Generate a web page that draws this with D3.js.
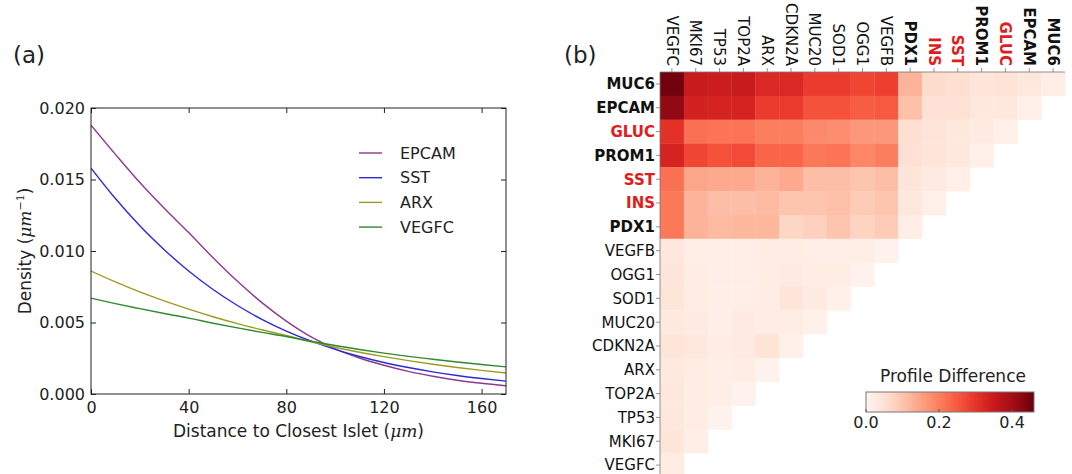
<!DOCTYPE html>
<html><head><meta charset="utf-8">
<script src="https://cdn.jsdelivr.net/npm/d3@7"></script>
<style>body{margin:0;background:#fff} text{font-family:"DejaVu Sans",sans-serif}</style>
</head><body><svg id="c" width="1072" height="474"></svg>
<script>
// ---------- Panel (a) data ----------
const distance = [0,10,20,30,40,50,60,70,80,90,100,110,120,130,140,150,160,170];
const epcam = [0.0188,0.01676,0.01479,0.01299,0.01129,0.00953,0.00788,0.00639,0.00510,0.00401,0.003156,0.00252,0.00201,0.00158,0.00124,0.00096,0.00075,0.00058];
const sst   = [0.0158,0.01367,0.01176,0.01009,0.00860,0.00731,0.00619,0.00522,0.00440,0.00371,0.00312,0.00262,0.00220,0.00185,0.00155,0.00129,0.00108,0.00090];
const arx   = [0.0086,0.00784,0.00714,0.00651,0.00593,0.00540,0.00492,0.00449,0.00409,0.00365,0.00327,0.00292,0.00261,0.00233,0.00208,0.00185,0.00165,0.00147];
const vegfc = [0.0067,0.00632,0.00597,0.00563,0.00531,0.00495,0.00462,0.00431,0.00402,0.00369,0.00339,0.00311,0.00286,0.00263,0.00243,0.00224,0.00206,0.00190];
const seriesNames = ["EPCAM","SST","ARX","VEGFC"];
const seriesColors = ["#8c3a8c","#2b2bd6","#9c9c22","#2e8a2e"];
const xTicks = [0,40,80,120,160];
const yTicks = [0,0.005,0.010,0.015,0.020];

// ---------- Panel (b) data ----------
const colGenes = ["VEGFC","MKI67","TP53","TOP2A","ARX","CDKN2A","MUC20","SOD1","OGG1","VEGFB","PDX1","INS","SST","PROM1","GLUC","EPCAM","MUC6"];
const rowGenes = ["MUC6","EPCAM","GLUC","PROM1","SST","INS","PDX1","VEGFB","OGG1","SOD1","MUC20","CDKN2A","ARX","TOP2A","TP53","MKI67","VEGFC"];
const profileDiff = [
  [0.45,0.35,0.345,0.35,0.32,0.32,0.29,0.29,0.275,0.285,0.125,0.06,0.055,0.04,0.045,0.035,0.02],
  [0.42,0.335,0.33,0.33,0.29,0.29,0.26,0.26,0.245,0.25,0.105,0.05,0.05,0.035,0.035,0.015],
  [0.305,0.22,0.215,0.215,0.2,0.2,0.185,0.18,0.165,0.165,0.055,0.04,0.035,0.03,0.015],
  [0.33,0.275,0.26,0.27,0.235,0.235,0.21,0.215,0.19,0.2,0.05,0.04,0.035,0.015],
  [0.22,0.145,0.14,0.14,0.125,0.14,0.11,0.11,0.1,0.11,0.04,0.03,0.015],
  [0.21,0.125,0.11,0.11,0.115,0.1,0.1,0.105,0.09,0.1,0.035,0.015],
  [0.21,0.125,0.115,0.12,0.12,0.07,0.08,0.1,0.075,0.09,0.02],
  [0.035,0.02,0.018,0.018,0.022,0.022,0.018,0.018,0.02,0.01],
  [0.04,0.022,0.018,0.018,0.022,0.028,0.022,0.022,0.01],
  [0.04,0.022,0.018,0.018,0.022,0.04,0.03,0.012],
  [0.032,0.028,0.015,0.03,0.025,0.025,0.012],
  [0.042,0.035,0.022,0.028,0.045,0.012],
  [0.032,0.022,0.018,0.025,0.01],
  [0.035,0.022,0.018,0.01],
  [0.035,0.025,0.01],
  [0.04,0.02],
  [0.022]
];
const boldGenes = ["MUC6","EPCAM","GLUC","PROM1","SST","INS","PDX1"];
const redGenes = ["GLUC","SST","INS"];
const colorbarTicks = [0.0,0.2,0.4];
const colorMax = 0.46;

const svg = d3.select("#c");
const red = "#e01c1c";

// ================= Panel (a) =================
const x = d3.scaleLinear().domain([0,170]).range([91,506]);
const y = d3.scaleLinear().domain([0,0.02]).range([394,108]);
const ga = svg.append("g");

const series = [epcam, sst, arx, vegfc];
const line = d3.line().x((d,i)=>x(distance[i])).y(d=>y(d)).curve(d3.curveMonotoneX);
ga.append("defs").append("clipPath").attr("id","clipA").append("rect")
  .attr("x",91).attr("y",108).attr("width",415).attr("height",286);
series.forEach((s,k)=>{
  ga.append("path").datum(s).attr("d",line).attr("fill","none")
    .attr("stroke",seriesColors[k]).attr("stroke-width",1.4).attr("clip-path","url(#clipA)");
});

// axes (classic matplotlib: ticks inside on all sides)
const axB = d3.axisBottom(x).tickValues(xTicks).tickSizeInner(-5).tickSizeOuter(0).tickPadding(8).tickFormat(d3.format("d"));
const axT = d3.axisTop(x).tickValues(xTicks).tickSizeInner(-5).tickSizeOuter(0).tickFormat("");
const axL = d3.axisLeft(y).tickValues(yTicks).tickSizeInner(-5).tickSizeOuter(0).tickPadding(6).tickFormat(d3.format(".3f"));
const axR = d3.axisRight(y).tickValues(yTicks).tickSizeInner(-5).tickSizeOuter(0).tickFormat("");
[[axB,"translate(0,394)"],[axT,"translate(0,108)"],[axL,"translate(91,0)"],[axR,"translate(506,0)"]].forEach(([a,t])=>{
  const g = ga.append("g").attr("transform",t).call(a);
  g.select(".domain").remove();
  g.selectAll("line").attr("stroke","#222");
  g.selectAll("text").attr("font-size",16).attr("fill","#222").attr("font-family","DejaVu Sans");
});
ga.append("rect").attr("x",91).attr("y",108).attr("width",415).attr("height",286)
  .attr("fill","none").attr("stroke","#222").attr("stroke-width",1);

// legend
seriesNames.forEach((n,k)=>{
  const ly = 153 + k*24.7;
  ga.append("line").attr("x1",359).attr("x2",382).attr("y1",ly).attr("y2",ly)
    .attr("stroke",seriesColors[k]).attr("stroke-width",1.4);
  ga.append("text").attr("x",400).attr("y",ly).attr("dy","0.36em").attr("font-size",16).attr("fill","#222").text(n);
});

// axis labels
const xl = ga.append("text").attr("x",298.5).attr("y",437).attr("text-anchor","middle").attr("font-size",17).attr("fill","#222");
xl.append("tspan").text("Distance to Closest Islet (");
xl.append("tspan").attr("font-family","DejaVu Serif").attr("font-style","italic").text("μm");
xl.append("tspan").text(")");
const yl = ga.append("text").attr("transform","translate(31,251) rotate(-90)").attr("text-anchor","middle").attr("font-size",17).attr("fill","#222");
yl.append("tspan").text("Density (");
yl.append("tspan").attr("font-family","DejaVu Serif").attr("font-style","italic").text("μm");
yl.append("tspan").attr("font-size",11).attr("dy",-7).attr("font-family","DejaVu Serif").text("−1");
yl.append("tspan").attr("dy",7).text(")");

svg.append("text").attr("x",13).attr("y",63).attr("font-size",23).attr("fill","#222").text("(a)");
svg.append("text").attr("x",564).attr("y",63).attr("font-size",23).attr("fill","#222").text("(b)");

// ================= Panel (b) =================
const gb = svg.append("g");
const cx = d3.scaleBand().domain(colGenes).range([660,1065]);
const cy = d3.scaleBand().domain(rowGenes).range([72,72+405]);
const color = d3.scaleSequential(d3.interpolateReds).domain([0,colorMax]);

const cells = [];
profileDiff.forEach((row,i)=>row.forEach((v,j)=>cells.push({r:rowGenes[i],c:colGenes[j],v})));
gb.selectAll("rect.cell").data(cells).join("rect").attr("class","cell")
  .attr("x",d=>cx(d.c)).attr("y",d=>cy(d.r))
  .attr("width",cx.bandwidth()+0.3).attr("height",cy.bandwidth()+0.3)
  .attr("fill",d=>color(d.v));

// axes lines + ticks
gb.append("line").attr("x1",660).attr("x2",1065).attr("y1",72).attr("y2",72).attr("stroke","#777").attr("stroke-width",0.8);
gb.append("line").attr("x1",660).attr("x2",660).attr("y1",72).attr("y2",477).attr("stroke","#777").attr("stroke-width",0.8);
colGenes.forEach(g=>{
  const xc = cx(g)+cx.bandwidth()/2;
  gb.append("line").attr("x1",xc).attr("x2",xc).attr("y1",68).attr("y2",72).attr("stroke","#777").attr("stroke-width",0.8);
  gb.append("text").attr("transform",`translate(${xc},66) rotate(90)`).attr("text-anchor","end").attr("dy","0.36em")
    .attr("font-size",15).attr("font-weight",boldGenes.includes(g)?"bold":"normal")
    .attr("fill",redGenes.includes(g)?red:"#111").text(g);
});
rowGenes.forEach(g=>{
  const yc = cy(g)+cy.bandwidth()/2;
  gb.append("line").attr("x1",656).attr("x2",660).attr("y1",yc).attr("y2",yc).attr("stroke","#777").attr("stroke-width",0.8);
  gb.append("text").attr("x",655).attr("y",yc).attr("text-anchor","end").attr("dy","0.36em")
    .attr("font-size",15).attr("font-weight",boldGenes.includes(g)?"bold":"normal")
    .attr("fill",redGenes.includes(g)?red:"#111").text(g);
});

// colorbar
const cb = d3.scaleLinear().domain([0,colorMax]).range([866,1034]);
const grad = svg.append("defs").append("linearGradient").attr("id","cbg");
d3.range(0,1.0001,0.05).forEach(t=>grad.append("stop").attr("offset",t).attr("stop-color",d3.interpolateReds(t)));
gb.append("rect").attr("x",866).attr("y",392).attr("width",168).attr("height",20).attr("fill","url(#cbg)")
  .attr("stroke","#777").attr("stroke-width",1);
colorbarTicks.forEach(t=>{
  gb.append("line").attr("x1",cb(t)).attr("x2",cb(t)).attr("y1",412).attr("y2",409).attr("stroke","#555");
  gb.append("text").attr("x",cb(t)).attr("y",428).attr("text-anchor","middle").attr("font-size",16).attr("fill","#222").text(d3.format(".1f")(t));
});
gb.append("text").attr("x",953).attr("y",382).attr("text-anchor","middle").attr("font-size",17).attr("fill","#222").text("Profile Difference");
</script></body></html>
